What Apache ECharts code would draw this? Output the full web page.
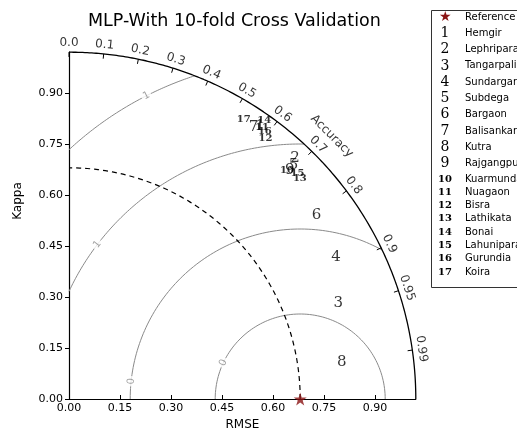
<!DOCTYPE html>
<html><head><meta charset="utf-8">
<script src="https://cdn.jsdelivr.net/npm/echarts@6/dist/echarts.min.js"></script>
<style>html,body{margin:0;padding:0;background:#fff}#c{width:517px;height:437px}</style>
</head><body><div id="c"></div>
<script>
// ---------- data ----------
const TITLE = 'MLP-With 10-fold Cross Validation';
const X_NAME = 'RMSE';
const Y_NAME = 'Kappa';
const ANG_NAME = 'Accuracy';
const STATIONS = ['Hemgir','Lephripara','Tangarpali','Sundargarh','Subdega','Bargaon','Balisankara','Kutra','Rajgangpur','Kuarmunda','Nuagaon','Bisra','Lathikata','Bonai','Lahunipara','Gurundia','Koira'];
const RMSE  = [0.562,0.665,0.792,0.785,0.660,0.728,0.543,0.802,0.649,0.641,0.568,0.578,0.679,0.574,0.672,0.576,0.514];
const KAPPA = [0.803,0.709,0.281,0.417,0.687,0.541,0.801,0.108,0.672,0.672,0.800,0.766,0.650,0.818,0.663,0.787,0.823];
const REF_NAME = 'Reference';
const REF_STD = 0.68;
const SMAX = 1.02;
const AXIS_TICKS = [0, 0.15, 0.30, 0.45, 0.60, 0.75, 0.90];
const CORR_TICKS = [0, 0.1, 0.2, 0.3, 0.4, 0.5, 0.6, 0.7, 0.8, 0.9, 0.95, 0.99];
const RMS_LEVELS = [0.25, 0.5, 0.75, 1.0];
const RMS_LABELS = ['0', '0', '1', '1'];

// ---------- layout / style ----------
const RMS_LABEL_ANGLE = [154.7, 174, 142.7, 116.9]; // degrees around reference
const STAR = 'path://M50,0 L61.8,36.3 L100,36.3 L69.1,58.8 L80.9,95.1 L50,72.6 L19.1,95.1 L30.9,58.8 L0,36.3 L38.2,36.3 Z';
const NUM_FONT = 'DejaVu Serif';
const SANS = 'DejaVu Sans';
const GRAY = '#8a8a8a';

function arcPts(cx, cy, r, a0, a1, n) {
  const pts = [];
  for (let i = 0; i <= n; i++) {
    const a = a0 + (a1 - a0) * i / n;
    pts.push([cx + r * Math.cos(a), cy + r * Math.sin(a)]);
  }
  return pts;
}

const series = [];
// outer arc
series.push({type:'line', data: arcPts(0,0,SMAX,0,Math.PI/2,240), showSymbol:false, symbol:'none', clip:false, silent:true,
  lineStyle:{color:'#000', width:1.3}, z:3});
// reference std dashed arc
series.push({type:'line', data: arcPts(0,0,REF_STD,0,Math.PI/2,200), showSymbol:false, symbol:'none', clip:false, silent:true,
  lineStyle:{color:'#000', width:1.2, type:[5,4]}, z:2});
// RMS contours
RMS_LEVELS.forEach((r) => {
  let c0 = (SMAX*SMAX - REF_STD*REF_STD - r*r) / (2*REF_STD*r);
  const a0 = c0 >= 1 ? 0 : (c0 <= -1 ? Math.PI : Math.acos(c0));
  const a1 = r > REF_STD ? Math.acos(-REF_STD / r) : Math.PI;
  series.push({type:'line', data: arcPts(REF_STD,0,r,a0,a1,200), showSymbol:false, symbol:'none', clip:false, silent:true,
    lineStyle:{color:GRAY, width:1}, z:1});
});
// RMS labels
series.push({type:'scatter', symbolSize:0, silent:true, z:4, clip:false,
  data: RMS_LEVELS.map((r,i) => {
    const a = RMS_LABEL_ANGLE[i] * Math.PI/180;
    return {value:[REF_STD + r*Math.cos(a), r*Math.sin(a)],
      label:{show:true, position:'inside', formatter: RMS_LABELS[i], rotate: RMS_LABEL_ANGLE[i]-90,
        color:GRAY, fontSize:10, fontFamily:SANS, backgroundColor:'#fff', padding:[0,2]}};
  })});
// correlation ticks on arc
series.push({type:'custom', silent:true, clip:false, z:4,
  data: CORR_TICKS.map(c => [c, 0]),
  renderItem: (params, api) => {
    const c = api.value(0), th = Math.acos(c);
    const p1 = api.coord([SMAX*Math.cos(th), SMAX*Math.sin(th)]);
    const p2 = api.coord([(SMAX-0.014)*Math.cos(th), (SMAX-0.014)*Math.sin(th)]);
    return {type:'line', shape:{x1:p1[0],y1:p1[1],x2:p2[0],y2:p2[1]}, style:{stroke:'#000', lineWidth:1}};
  }});
// correlation tick labels
const RL = 1.047;
series.push({type:'scatter', symbolSize:0, silent:true, clip:false, z:4,
  data: CORR_TICKS.map(c => {
    const th = Math.acos(c);
    let s = String(c); if (s.indexOf('.') < 0) s += '.0';
    return {value:[RL*Math.cos(th), RL*Math.sin(th)],
      label:{show:true, position:'inside', formatter:s, rotate: th*180/Math.PI - 90, color:'#000', fontSize:12, fontFamily:SANS}};
  })});
// angular axis name
series.push({type:'scatter', symbolSize:0, silent:true, clip:false, z:4,
  data:[{value:[1.093*Math.cos(Math.PI/4), 1.093*Math.sin(Math.PI/4)],
    label:{show:true, position:'inside', formatter:ANG_NAME, rotate:-45, color:'#000', fontSize:12, fontFamily:SANS}}]});
// reference star
series.push({type:'scatter', name:REF_NAME, data:[[REF_STD, 0]], symbol:STAR, symbolSize:13, clip:false, z:6,
  itemStyle:{color:'#8b1414'}});
// stations
STATIONS.forEach((name, i) => {
  series.push({type:'scatter', name, data:[[RMSE[i], KAPPA[i]]], symbolSize:1, clip:false, z:5,
    itemStyle:{color:'rgba(0,0,0,0)'},
    label:{show:true, position:'inside', formatter:String(i+1), color:'#000', fontFamily:NUM_FONT,
      fontSize: i < 9 ? 15 : 10, fontWeight: i < 9 ? 'normal' : 'bold'}});
});

const axisCommon = {
  type:'value', min:0, max:SMAX, splitLine:{show:false},
  axisLine:{show:true, lineStyle:{color:'#000', width:1.2}},
  axisTick:{show:true, length:4, customValues:AXIS_TICKS, lineStyle:{color:'#000'}},
  axisLabel:{customValues:AXIS_TICKS, formatter: v => v.toFixed(2), color:'#000', fontSize:11, fontFamily:SANS}
};

const option = {
  backgroundColor:'#fff',
  animation:false,
  title:{text:TITLE, left:88, top:12, padding:0, textStyle:{fontSize:17.5, fontWeight:'normal', color:'#000', fontFamily:SANS}},
  grid:{left:69, top:52.2, width:346.8, height:346.8},
  xAxis: Object.assign({}, axisCommon, {name:X_NAME, nameLocation:'middle', nameGap:19,
    nameTextStyle:{fontSize:12, color:'#000', fontFamily:SANS},
    axisTick:Object.assign({}, axisCommon.axisTick, {inside:true}),
    axisLabel:Object.assign({}, axisCommon.axisLabel, {margin:4})}),
  yAxis: Object.assign({}, axisCommon, {axisLabel:Object.assign({}, axisCommon.axisLabel, {margin:6})}),
  graphic:[
    {type:'text', x:18, y:201, rotation:Math.PI/2,
      style:{text:Y_NAME, font:'12px "DejaVu Sans"', fill:'#000', align:'center', verticalAlign:'middle'}},
    {type:'rect', shape:{x:431.5, y:10.5, width:150, height:277}, style:{fill:'none', stroke:'#333', lineWidth:1}, z:-1}
  ],
  legend:{orient:'vertical', left:431, top:8, itemWidth:0, itemHeight:12, itemGap:2.3, icon:'none',
    padding:[2,2,7,2], borderWidth:0, selectedMode:false,
    data:[REF_NAME].concat(STATIONS),
    formatter: (name) => {
      if (name === REF_NAME) return '{s|★}{t|' + name + '}';
      const k = STATIONS.indexOf(name) + 1;
      return (k < 10 ? '{n|' : '{m|') + k + '}{t|' + name + '}';
    },
    textStyle:{color:'#000', rich:{
      s:{width:14, align:'center', color:'#8b1414', fontSize:14, lineHeight:13},
      n:{width:14, align:'center', fontFamily:NUM_FONT, fontSize:14, lineHeight:13, color:'#000'},
      m:{width:14, align:'center', fontFamily:NUM_FONT, fontSize:10, fontWeight:'bold', lineHeight:13, color:'#000'},
      t:{fontFamily:SANS, fontSize:10, lineHeight:13, padding:[0,0,0,13], color:'#000'}
    }}},
  series
};
const chart = echarts.init(document.getElementById('c'), null, {renderer:'canvas'});
chart.setOption(option);
</script></body></html>
